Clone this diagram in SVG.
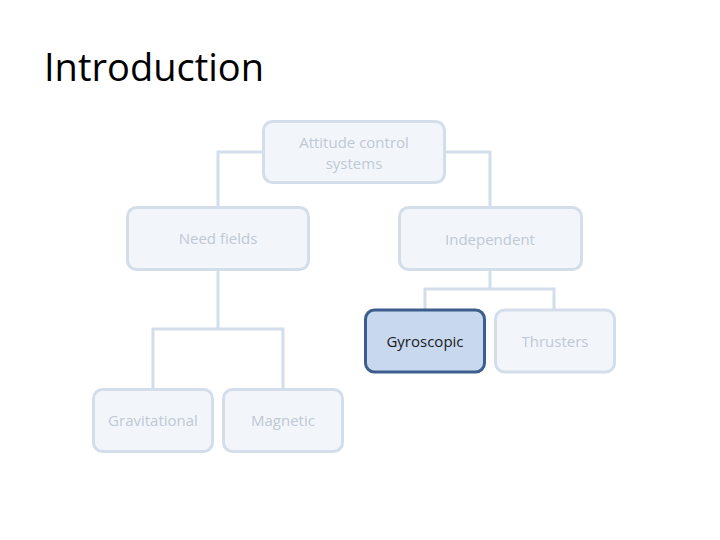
<svg xmlns="http://www.w3.org/2000/svg" width="720" height="540" viewBox="0 0 720 540">
<style>
.node rect{fill:#f2f6fb;stroke:#d4deea;stroke-width:3}
.node text{font-family:"Open Sans","Liberation Sans",sans-serif;font-size:15px;fill:#bfc8d3;text-anchor:middle}
#gyroscopic rect{fill:#c7d8ef;stroke:#3d5d8c}
#gyroscopic text{fill:#1a1a1a}
.conn{fill:none;stroke:#d4deea;stroke-width:3}
.title{font-family:"Open Sans","Liberation Sans",sans-serif;font-size:38px;fill:#000}
</style>
<rect width="720" height="540" fill="#fff"/>
<text class="title" x="44" y="81" textLength="220" lengthAdjust="spacingAndGlyphs">Introduction</text>
<g id="connectors">
<path class="conn" d="M218 207V152H490V207"/>
<path class="conn" d="M218 269V329"/>
<path class="conn" d="M153 389V329H283V389"/>
<path class="conn" d="M490 269V289"/>
<path class="conn" d="M425 310V289H554V310"/>
</g>
<g id="attitude" class="node"><rect x="263.5" y="121.5" width="181" height="61" rx="9"/><text x="354" y="148">Attitude control</text><text x="354" y="169">systems</text></g>
<g id="needfields" class="node"><rect x="127.5" y="207.5" width="181" height="62" rx="9"/><text x="218" y="244">Need fields</text></g>
<g id="independent" class="node"><rect x="399.5" y="207.5" width="182" height="62" rx="9"/><text x="490" y="245">Independent</text></g>
<g id="gravitational" class="node"><rect x="93.5" y="389.5" width="119" height="62" rx="9"/><text x="153" y="426">Gravitational</text></g>
<g id="magnetic" class="node"><rect x="223.5" y="389.5" width="119" height="62" rx="9"/><text x="283" y="426">Magnetic</text></g>
<g id="gyroscopic" class="node"><rect x="365.5" y="310" width="119" height="62" rx="9"/><text x="425" y="347">Gyroscopic</text></g>
<g id="thrusters" class="node"><rect x="495.5" y="310" width="119" height="62" rx="9"/><text x="555" y="347">Thrusters</text></g>
</svg>
